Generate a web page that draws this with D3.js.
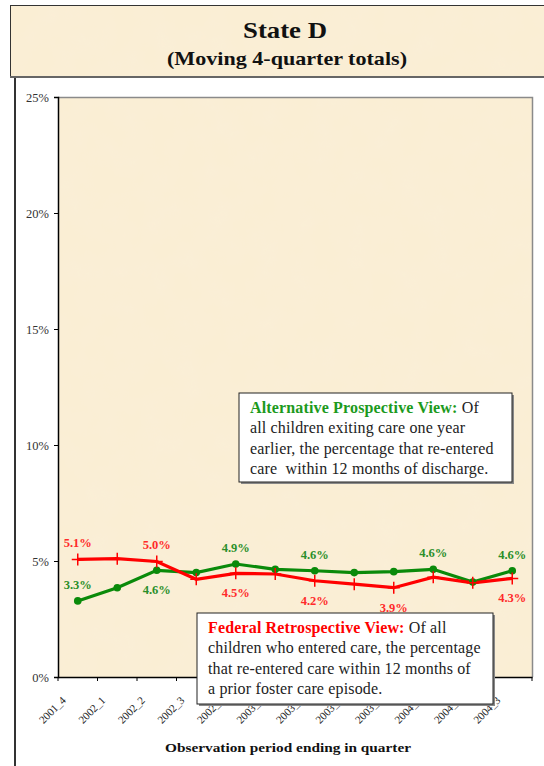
<!DOCTYPE html>
<html>
<head>
<meta charset="utf-8">
<script src="https://cdn.jsdelivr.net/npm/d3@7"></script>
<style>
  html, body { margin: 0; padding: 0; background: #fff; }
  svg text { font-family: "Liberation Serif", "Times New Roman", serif; }
</style>
</head>
<body>
<div id="chart"></div>
<script>
// categories and values
const quarters = ["2001_4", "2002_1", "2002_2", "2002_3", "2002_4", "2003_1",
                  "2003_2", "2003_3", "2003_4", "2004_1", "2004_2", "2004_3"];
const prospective = [3.28, 3.85, 4.6, 4.5, 4.87, 4.64, 4.58, 4.5, 4.54, 4.64, 4.09, 4.58];
const retrospective = [5.07, 5.1, 4.98, 4.21, 4.47, 4.44, 4.15, 4.0, 3.85, 4.3, 4.06, 4.25];
const yTicks = [0, 5, 10, 15, 20, 25];
// which points carry a value label, and where (above / below)
const prospectiveLabels = [[0, "above"], [2, "below"], [4, "above"], [6, "above"], [9, "above"], [11, "above"]];
const retrospectiveLabels = [[0, "above"], [2, "above"], [4, "below"], [6, "below"], [8, "below"], [11, "below"]];

const W = 544, H = 766;
const plot = {left: 58, right: 532, top: 97, bottom: 677};
const paper = "#faeed4";
const green = "#0a8a0a", red = "#ff0000";

const svg = d3.select("#chart").append("svg")
  .attr("width", W).attr("height", H);

/* parchment texture */
const defs = svg.append("defs");
const f = defs.append("filter").attr("id", "paper").attr("x", 0).attr("y", 0).attr("width", 1).attr("height", 1);
f.append("feTurbulence").attr("type", "fractalNoise").attr("baseFrequency", 0.035).attr("numOctaves", 3).attr("seed", 4).attr("result", "n");
f.append("feColorMatrix").attr("in", "n").attr("type", "matrix")
  .attr("values", "0 0 0 0 0.96  0 0 0 0 0.88  0 0 0 0 0.72  0 0 0 0.5 -0.15").attr("result", "c");
f.append("feComposite").attr("in", "c").attr("in2", "SourceGraphic").attr("operator", "in").attr("result", "t");
f.append("feMerge").selectAll("feMergeNode").data(["SourceGraphic", "t"]).enter()
  .append("feMergeNode").attr("in", d => d);

/* title box */
svg.append("rect").attr("x", 10.5).attr("y", 5.5).attr("width", 560).attr("height", 71)
  .attr("fill", paper).attr("filter", "url(#paper)");
svg.append("rect").attr("x", 10.5).attr("y", 5.5).attr("width", 560).attr("height", 71)
  .attr("fill", "none").attr("stroke", "#333").attr("stroke-width", 1);
svg.append("line").attr("x1", 10).attr("x2", 544).attr("y1", 77).attr("y2", 77)
  .attr("stroke", "#666").attr("stroke-width", 2);
svg.append("text").attr("x", 285).attr("y", 38).attr("text-anchor", "middle")
  .attr("font-size", 24).attr("font-weight", "bold").attr("fill", "#111")
  .attr("textLength", 84).attr("lengthAdjust", "spacingAndGlyphs")
  .text("State D");
svg.append("text").attr("x", 287).attr("y", 65).attr("text-anchor", "middle")
  .attr("font-size", 19).attr("font-weight", "bold").attr("fill", "#111")
  .attr("textLength", 240).attr("lengthAdjust", "spacingAndGlyphs")
  .text("(Moving 4-quarter totals)");

// left frame line of the chart panel
svg.append("line").attr("x1", 15).attr("x2", 15).attr("y1", 78).attr("y2", H)
  .attr("stroke", "#333").attr("stroke-width", 2);

/* scales */
const x = d3.scaleBand().domain(quarters).range([plot.left, plot.right]);
const y = d3.scaleLinear().domain([0, 25]).range([plot.bottom, plot.top]);
const cx = d => x(d) + x.bandwidth() / 2;

// plot area
svg.append("rect").attr("x", plot.left).attr("y", plot.top)
  .attr("width", plot.right - plot.left).attr("height", plot.bottom - plot.top)
  .attr("fill", paper).attr("filter", "url(#paper)");
svg.append("path")
  .attr("d", `M${plot.left},${plot.top + 0.5}H${plot.right + 0.5}V${plot.bottom}`)
  .attr("fill", "none").attr("stroke", "#8a8a8a").attr("stroke-width", 1.5);

/* axes */
const yAxis = d3.axisLeft(y).tickValues(yTicks).tickFormat(d => d + "%").tickSize(4).tickPadding(5);
const gy = svg.append("g").attr("transform", `translate(${plot.left},0)`).call(yAxis);
gy.select(".domain").attr("stroke", "#000").attr("stroke-width", 1.5);
gy.selectAll(".tick line").attr("stroke", "#000");
gy.selectAll("text").attr("font-size", 12.5).attr("fill", "#333")
  .style("font-family", "Liberation Serif, serif");

const xAxis = d3.axisBottom(x).tickSize(0).tickFormat("");
const gx = svg.append("g").attr("transform", `translate(0,${plot.bottom})`).call(xAxis);
gx.select(".domain").attr("stroke", "#000").attr("stroke-width", 1.5);
// tick marks sit between the categories
gx.selectAll(".boundary").data(quarters.concat(["end"])).enter().append("line")
  .attr("class", "boundary")
  .attr("x1", (d, i) => plot.left + i * x.bandwidth())
  .attr("x2", (d, i) => plot.left + i * x.bandwidth())
  .attr("y1", 0).attr("y2", 4).attr("stroke", "#000");
gx.selectAll(".qlab").data(quarters).enter().append("text")
  .attr("class", "qlab")
  .attr("transform", d => `translate(${cx(d) - 11},${24}) rotate(-45)`)
  .attr("text-anchor", "end").attr("font-size", 11).attr("fill", "#222")
  .text(d => d);

svg.append("text").attr("x", 288).attr("y", 752).attr("text-anchor", "middle")
  .attr("font-size", 13.5).attr("font-weight", "bold").attr("fill", "#111")
  .attr("textLength", 246).attr("lengthAdjust", "spacingAndGlyphs")
  .text("Observation period ending in quarter");

/* lines */
const line = d3.line().x((d, i) => cx(quarters[i])).y(d => y(d));

svg.append("path").datum(prospective).attr("d", line)
  .attr("fill", "none").attr("stroke", green).attr("stroke-width", 3.2);
svg.append("path").datum(retrospective).attr("d", line)
  .attr("fill", "none").attr("stroke", red).attr("stroke-width", 3.2);

svg.append("g").selectAll("circle").data(prospective).enter().append("circle")
  .attr("cx", (d, i) => cx(quarters[i])).attr("cy", d => y(d)).attr("r", 3.8)
  .attr("fill", green);

svg.append("g").selectAll("path").data(retrospective).enter().append("path")
  .attr("d", (d, i) => `M${cx(quarters[i]) - 6},${y(d)}h12M${cx(quarters[i])},${y(d) - 6}v12`)
  .attr("stroke", red).attr("stroke-width", 1.5);

/* value labels */
function addLabels(values, which, color) {
  svg.append("g").selectAll("text").data(which).enter().append("text")
    .attr("x", d => cx(quarters[d[0]]))
    .attr("y", d => y(values[d[0]]) + (d[1] === "above" ? -12 : 24))
    .attr("text-anchor", "middle").attr("font-size", 12.5).attr("font-weight", "bold")
    .attr("fill", color)
    .text(d => values[d[0]].toFixed(1) + "%");
}
addLabels(prospective, prospectiveLabels, "#2a8f2a");
addLabels(retrospective, retrospectiveLabels, "#ff2a2a");

/* text boxes */
function noteBox(bx, by, bw, bh, head, color, rest, lines) {
  const g = svg.append("g");
  g.append("rect").attr("x", bx + 2).attr("y", by + 2).attr("width", bw).attr("height", bh)
    .attr("fill", "#888");
  g.append("rect").attr("x", bx).attr("y", by).attr("width", bw).attr("height", bh)
    .attr("fill", "#fff").attr("stroke", "#222").attr("stroke-width", 1);
  const t = g.append("text").attr("font-size", 16).attr("letter-spacing", 0.15).attr("fill", "#222");
  const first = t.append("tspan").attr("x", bx + 11).attr("y", by + 20);
  first.append("tspan").attr("font-weight", "bold").attr("fill", color).text(head);
  first.append("tspan").text(rest);
  lines.forEach((l, i) => {
    t.append("tspan").attr("x", bx + 11).attr("y", by + 20 + (i + 1) * 20.3)
      .attr("xml:space", "preserve").text(l);
  });
}
noteBox(239, 393, 273, 89, "Alternative Prospective View:", "#1c9a1c", " Of",
  ["all children exiting care one year",
   "earlier, the percentage that re-entered",
   "care  within 12 months of discharge."]);
noteBox(197, 613, 296, 91, "Federal Retrospective View:", "#ff0000", " Of all",
  ["children who entered care, the percentage",
   "that re-entered care within 12 months of",
   "a prior foster care episode."]);
</script>
</body>
</html>
